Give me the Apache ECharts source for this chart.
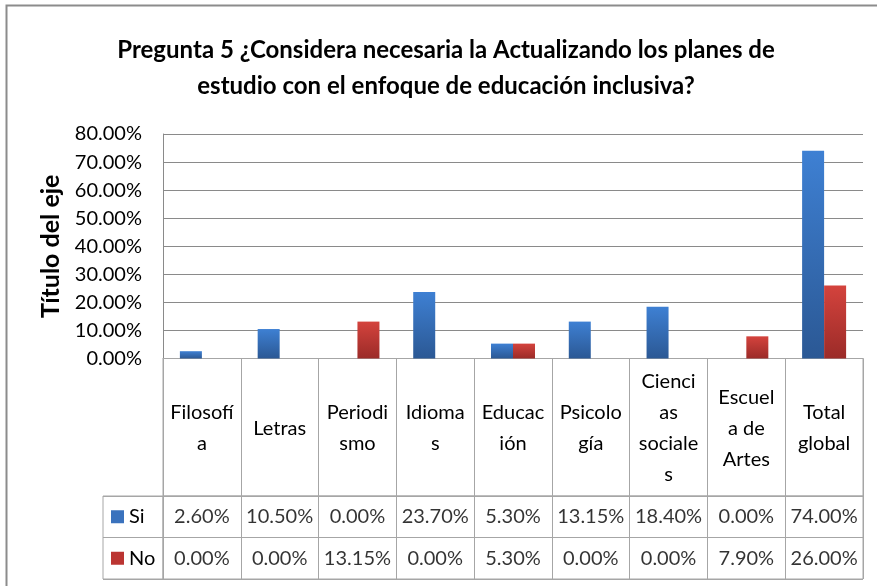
<!DOCTYPE html>
<html>
<head>
<meta charset="utf-8">
<script src="https://cdn.jsdelivr.net/npm/echarts@6/dist/echarts.min.js"></script>
<style>
  html, body { margin: 0; padding: 0; background: #fff; }
  #main { width: 877px; height: 586px; }
</style>
</head>
<body>
<div id="main"></div>
<script>
const categories = ['Filosofía', 'Letras', 'Periodismo', 'Idiomas', 'Educación', 'Psicología', 'Ciencias sociales', 'Escuela de Artes', 'Total global'];
// wrapped the way the table header shows them
const categoryLabels = ['Filosofí\na', 'Letras', 'Periodi\nsmo', 'Idioma\ns', 'Educac\nión', 'Psicolo\ngía', 'Cienci\nas\nsociale\ns', 'Escuel\na de\nArtes', 'Total\nglobal'];
const rowNames = ['Si', 'No'];
const siValues = [2.6, 10.5, 0, 23.7, 5.3, 13.15, 18.4, 0, 74];
const noValues = [0, 0, 13.15, 0, 5.3, 0, 0, 7.9, 26];

const font = 'Lato';
const gridColor = '#8a8a8a';
const tableColor = '#a6a6a6';
const blue = new echarts.graphic.LinearGradient(0, 0, 0, 1, [
  { offset: 0, color: '#3e80d3' }, { offset: 1, color: '#2b5894' }
]);
const red = new echarts.graphic.LinearGradient(0, 0, 0, 1, [
  { offset: 0, color: '#d4433d' }, { offset: 1, color: '#9b2b28' }
]);

const tableCells = siValues.map((v, i) => [i, 0, v]).concat(noValues.map((v, i) => [i, 1, v]));

const myChart = echarts.init(document.getElementById('main'));
myChart.setOption({
  animation: false,
  backgroundColor: '#fff',
  textStyle: { fontFamily: font },
  title: {
    text: 'Pregunta 5 ¿Considera necesaria la Actualizando los planes de\nestudio con el enfoque de educación inclusiva?',
    left: 441,
    top: 27,
    textAlign: 'center',
    textStyle: { fontFamily: font, fontWeight: 'bold', fontSize: 24, lineHeight: 36, color: '#000' }
  },
  graphic: [{
    type: 'rect', left: 4, top: 3, silent: true,
    shape: { width: 900, height: 600 },
    style: { fill: 'none', stroke: '#8c8c8c', lineWidth: 2 }
  }],
  grid: [
    { left: 163, right: 14, top: 134, bottom: 227.5 },
    { left: 163, right: 14, top: 496, bottom: 7, show: true, borderColor: tableColor, borderWidth: 1 },
    { left: 103, width: 60, top: 496, bottom: 7, show: true, borderColor: tableColor, borderWidth: 1 },
    { left: 163, right: 14, top: 358.5, height: 137.5, show: true, borderColor: tableColor, borderWidth: 1 }
  ],
  xAxis: [
    {
      gridIndex: 0, type: 'category', data: categories,
      axisLine: { lineStyle: { color: tableColor } },
      axisTick: { show: false },
      axisLabel: {
        interval: 0, margin: 70, verticalAlign: 'middle', lineHeight: 31,
        fontSize: 20, color: '#000', fontFamily: font,
        formatter: (v, i) => categoryLabels[i]
      }
    },
    {
      gridIndex: 1, type: 'category', data: categories,
      axisLine: { show: false }, axisTick: { show: false }, axisLabel: { show: false },
      splitLine: { show: true, interval: 0, lineStyle: { color: tableColor } }
    },
    { gridIndex: 2, type: 'category', data: [''], show: false },
    {
      gridIndex: 3, type: 'category', data: categories,
      axisLine: { show: false }, axisTick: { show: false }, axisLabel: { show: false },
      splitLine: { show: true, interval: 0, lineStyle: { color: tableColor } }
    }
  ],
  yAxis: [
    {
      gridIndex: 0, type: 'value', min: 0, max: 80, interval: 10,
      name: 'Título del eje', nameLocation: 'middle', nameGap: 100, nameRotate: 90,
      nameTextStyle: { fontFamily: font, fontWeight: 'bold', fontSize: 25, color: '#000' },
      axisLine: { show: true, lineStyle: { color: gridColor } },
      axisTick: { show: false },
      axisLabel: { formatter: v => v.toFixed(2) + '%', margin: 21, fontSize: 20, color: '#000', fontFamily: font },
      splitLine: { lineStyle: { color: gridColor } }
    },
    {
      gridIndex: 1, type: 'category', data: rowNames, inverse: true,
      axisLine: { show: false }, axisTick: { show: false }, axisLabel: { show: false },
      splitLine: { show: true, interval: 0, lineStyle: { color: tableColor } }
    },
    {
      gridIndex: 2, type: 'category', data: rowNames, inverse: true,
      axisLine: { show: false }, axisTick: { show: false },
      axisLabel: {
        inside: true, margin: 8,
        formatter: (v, i) => `{k${i}|}{t|${v}}`,
        rich: {
          k0: { width: 13, height: 13, backgroundColor: '#3a72bd' },
          k1: { width: 13, height: 13, backgroundColor: '#bb3532' },
          t: { fontSize: 20, color: '#000', fontFamily: font, padding: [0, 0, 0, 5] }
        }
      },
      splitLine: { show: true, interval: 0, lineStyle: { color: tableColor } }
    },
    { gridIndex: 3, type: 'value', min: 0, max: 1, show: false }
  ],
  series: [
    {
      name: 'Si', type: 'bar', data: siValues, barWidth: 22, barGap: '0%',
      itemStyle: { color: blue }
    },
    {
      name: 'No', type: 'bar', data: noValues, barWidth: 22, barGap: '0%',
      itemStyle: { color: red }
    },
    {
      type: 'scatter', xAxisIndex: 1, yAxisIndex: 1, data: tableCells,
      symbolSize: 1, silent: true,
      itemStyle: { color: 'rgba(0,0,0,0)' },
      label: {
        show: true, position: 'inside', fontSize: 20, color: '#000', fontFamily: font,
        formatter: p => p.value[2].toFixed(2) + '%'
      }
    }
  ]
});
</script>
</body>
</html>
